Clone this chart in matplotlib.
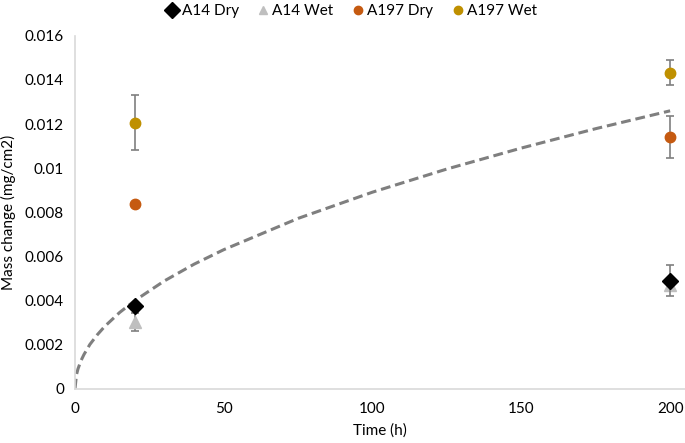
import numpy as np
import matplotlib.pyplot as plt

plt.rcParams['font.family'] = ['Lato', 'DejaVu Sans']

# temps d'exposition (h)
temps = [20, 200]

a14_dry = [0.00376, 0.0049]
a14_dry_err = [0.0, 0.0007]
a14_wet = [0.00303, 0.00468]
a14_wet_err = [0.0004, 0.0]
a197_dry = [0.00839, 0.01143]
a197_dry_err = [0.0, 0.00095]
a197_wet = [0.01206, 0.01433]
a197_wet_err = [0.00125, 0.00056]

# courbe parabolique
courbe_t = [0, 0.5, 1, 2, 3, 5, 7.5, 10, 15, 20, 30, 40, 50, 75, 100, 125, 150, 175, 200]
courbe_y = [0, 0.00063, 0.00089, 0.00126, 0.00154, 0.002, 0.00244, 0.00282, 0.00345,
            0.00398, 0.00488, 0.00564, 0.0063, 0.00772, 0.00891, 0.00996, 0.01091, 0.01179, 0.0126]

fig = plt.figure(figsize=(6.85, 4.43), dpi=100)
ax = fig.add_axes([0.1095, 0.123, 0.8905, 0.796])

ax.plot(courbe_t, courbe_y, linestyle=(0, (3.2, 1.6)), color='#7f7f7f', linewidth=2.2, zorder=1)

err_kw = dict(ecolor='#7f7f7f', elinewidth=1.2, capsize=3, capthick=1.2, linestyle='none')

ax.errorbar(temps, a197_wet, yerr=a197_wet_err, marker='o', markersize=7.5,
            color='#bf9000', label='A197 Wet', zorder=3, **err_kw)
ax.errorbar(temps, a197_dry, yerr=a197_dry_err, marker='o', markersize=7.5,
            color='#c55a11', label='A197 Dry', zorder=3, **err_kw)
ax.errorbar(temps, a14_wet, yerr=a14_wet_err, marker='^', markersize=8,
            color='#bfbfbf', label='A14 Wet', zorder=3, **err_kw)
ax.errorbar(temps, a14_dry, yerr=a14_dry_err, marker='D', markersize=8,
            color='black', label='A14 Dry', zorder=4, **err_kw)

ax.set_xlim(0, 205)
ax.set_ylim(0, 0.016)
ax.set_xticks([0, 50, 100, 150, 200])
ax.set_yticks(np.arange(0, 0.0161, 0.002))
ax.set_yticklabels(['0', '0.002', '0.004', '0.006', '0.008', '0.01', '0.012', '0.014', '0.016'])

for s in ['top', 'right']:
    ax.spines[s].set_visible(False)
for s in ['left', 'bottom']:
    ax.spines[s].set_color('#d9d9d9')
    ax.spines[s].set_linewidth(1.2)
ax.tick_params(length=0, labelsize=11, pad=8)
ax.tick_params(axis='x', pad=10)

ax.set_xlabel('Time (h)', fontsize=11, labelpad=5)
ax.set_ylabel('Mass change (mg/cm2)', fontsize=11, labelpad=6)

handles, labels = ax.get_legend_handles_labels()
ordre = [3, 2, 1, 0]
hs = [handles[i][0] for i in ordre]
leg = fig.legend(hs, [labels[i] for i in ordre],
                 loc='upper center', bbox_to_anchor=(0.511, 1.022), ncol=4, frameon=False,
                 fontsize=11, handletextpad=0.0, columnspacing=1.0, handlelength=1.2)
for h, ms in zip(leg.legend_handles, [8, 6, 6, 6]):
    h.set_markersize(ms)

fig.savefig('out.png', dpi=100)
